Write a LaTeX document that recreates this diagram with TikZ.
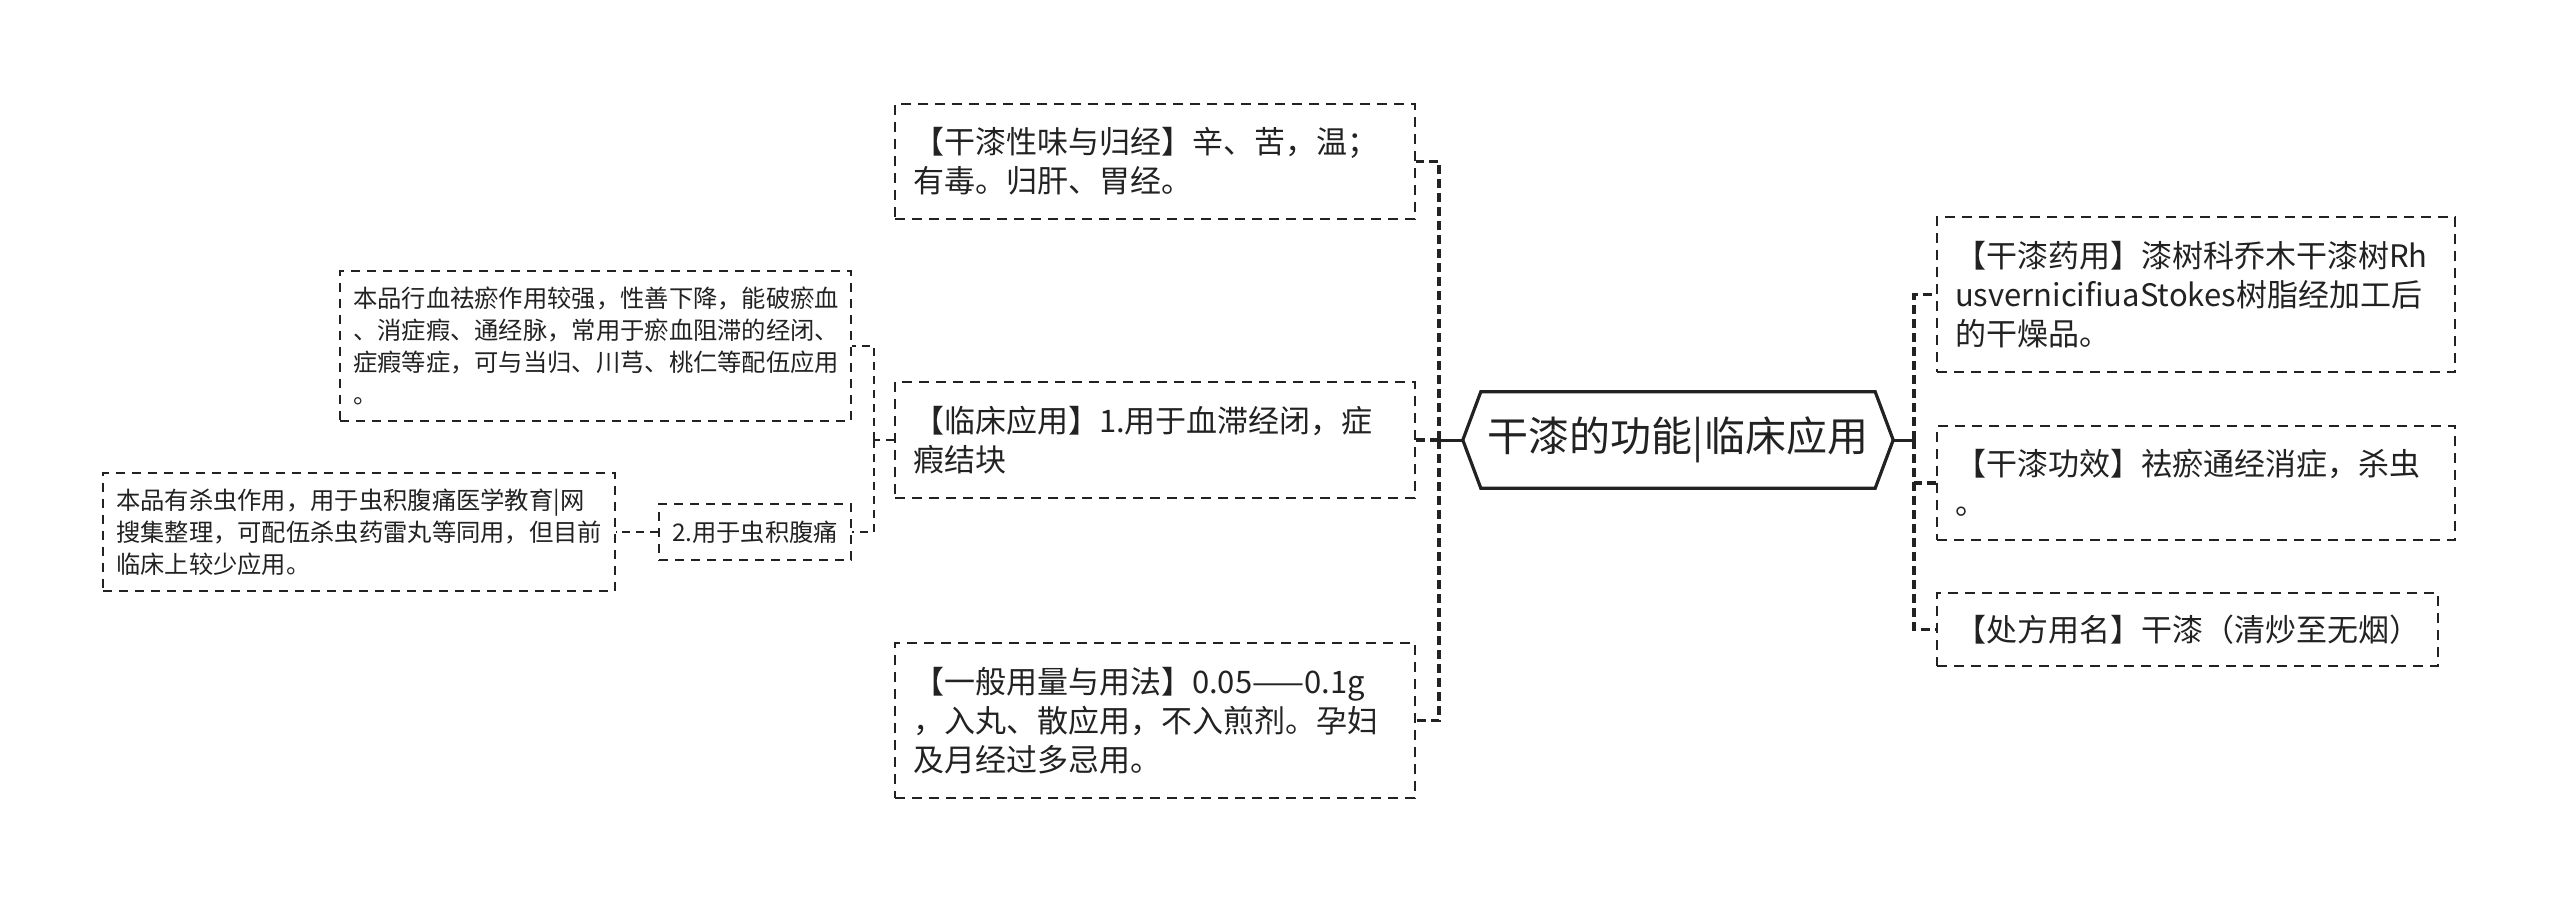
\documentclass[tikz,border=0pt]{standalone}
\usepackage{fontspec}
\setmainfont{Noto Sans CJK SC}
\definecolor{ink}{HTML}{222222}

\begin{document}
\begin{tikzpicture}[
  x=1pt, y=-1pt,
  leaf/.style={draw=ink, line width=2pt, dash pattern=on 10pt off 7pt, text=ink, align=left,
    inner xsep=18pt, inner ysep=0pt, font=\fontsize{31}{39}\selectfont},
  sub/.style={draw=ink, line width=1.8pt, dash pattern=on 9pt off 7pt, text=ink, align=left,
    inner xsep=13pt, inner ysep=0pt, font=\fontsize{24.3}{32}\selectfont},
  rootnode/.style={text=ink, inner sep=0pt, minimum width=430pt, minimum height=96pt,
    font=\fontsize{41}{48}\selectfont},
  hexline/.style={draw=ink, line width=3.2pt, line join=miter},
  stem/.style={draw=ink, line width=3pt},
  bus/.style={draw=ink, line width=3.5pt, dash pattern=on 9pt off 5pt},
  subbus/.style={draw=ink, line width=2pt, dash pattern=on 8pt off 6pt}
]
\useasboundingbox[fill=white] (0,0) rectangle (2560,905);

% centre
\node[rootnode] (root) at (1678,440) {干漆的功能|临床应用};
\draw[hexline] (root.west) -- ([xshift=18pt]root.north west) -- ([xshift=-18pt]root.north east)
  -- (root.east) -- ([xshift=-18pt]root.south east) -- ([xshift=18pt]root.south west) -- cycle;

% left branch
\node[leaf, anchor=east, text width=484pt, minimum height=115pt] (xingwei) at (1416,161.5)
  {【干漆性味与归经】辛、苦，温；\\有毒。归肝、胃经。};
\node[leaf, anchor=east, text width=484pt, minimum height=116pt] (linchuang) at (1416,440)
  {【临床应用】1.用于血滞经闭，症\\瘕结块};
\node[leaf, anchor=east, text width=484pt, minimum height=155pt] (yongliang) at (1416,720.5)
  {【一般用量与用法】0.05——0.1g\\，入丸、散应用，不入煎剂。孕妇\\及月经过多忌用。};

% right branch
\node[leaf, anchor=west, text width=482pt, minimum height=155pt] (yaoyong) at (1936,294.5)
  {【干漆药用】漆树科乔木干漆树Rh\\usvernicifiuaStokes树脂经加工后\\的干燥品。};
\node[leaf, anchor=west, text width=482pt, minimum height=114pt] (gongxiao) at (1936,483)
  {【干漆功效】祛瘀通经消症，杀虫\\。};
\node[leaf, anchor=west, minimum height=73pt] (chufang) at (1936,629.5)
  {【处方用名】干漆（清炒至无烟）};

% clinical uses
\node[sub, anchor=east, text width=485pt, minimum height=150pt] (huoxue) at (852,346)
  {本品行血祛瘀作用较强，性善下降，能破瘀血\\、消症瘕、通经脉，常用于瘀血阻滞的经闭、\\症瘕等症，可与当归、川芎、桃仁等配伍应用\\。};
\node[sub, anchor=east, minimum height=56pt] (chongji) at (852,532)
  {2.用于虫积腹痛};
\node[sub, anchor=east, text width=486pt, minimum height=118pt] (shachong) at (616,532)
  {本品有杀虫作用，用于虫积腹痛医学教育|网\\搜集整理，可配伍杀虫药雷丸等同用，但目前\\临床上较少应用。};

% connectors
\coordinate (lbus) at (1439,440);
\coordinate (rbus) at (1914,440);
\coordinate (sbus) at (874,440);

\draw[stem] (root.west) -- (lbus);
\draw[stem] (root.east) -- (rbus);
\draw[bus] (lbus) |- (xingwei.east);
\draw[bus] (lbus) |- (linchuang.east);
\draw[bus] (lbus) |- (yongliang.east);
\draw[bus] (rbus) |- (yaoyong.west);
\draw[bus] (rbus) |- (gongxiao.west);
\draw[bus] (rbus) |- (chufang.west);

\draw[subbus] (linchuang.west) -- (sbus);
\draw[subbus] (sbus) |- (huoxue.east);
\draw[subbus] (sbus) |- (chongji.east);
\draw[subbus] (chongji.west) -- (shachong.east);
\end{tikzpicture}
\end{document}
